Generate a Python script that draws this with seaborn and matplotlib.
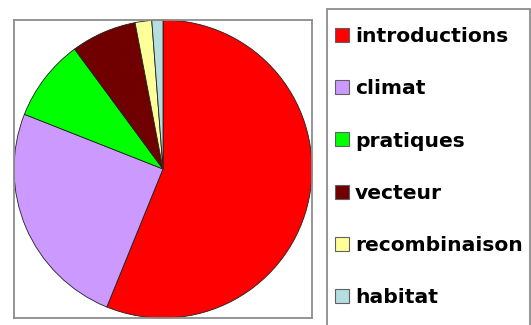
import matplotlib
matplotlib.use("Agg")
import matplotlib.pyplot as plt
from matplotlib.patches import Rectangle
import seaborn as sns

# Share of each cause (percent)
categories = ["introductions", "climat", "pratiques", "vecteur", "recombinaison", "habitat"]
shares = [56.1, 24.8, 8.9, 7.1, 1.8, 1.2]
colors = ["#FF0000", "#CC99FF", "#00FF00", "#700000", "#FFFF99", "#B4DEE0"]

sns.set_theme(style="white")
plt.rcParams["font.family"] = ["DejaVu Sans"]
palette = sns.color_palette(colors)

W, H = 531, 325
fig = plt.figure(figsize=(W / 100, H / 100), dpi=100)
fig.patch.set_facecolor("white")

# plot area box
ax = fig.add_axes([14 / W, (H - 318) / H, 298 / W, 298 / H])
wedges, _ = ax.pie(
    shares,
    colors=palette,
    startangle=90,
    counterclock=False,
    radius=1.0,
    frame=True,
    wedgeprops=dict(edgecolor="#202020", linewidth=0.6),
)
ax.set_xlim(-1.0, 1.0)
ax.set_ylim(-1.0, 1.0)
ax.set_aspect("auto")
ax.set_xticks([])
ax.set_yticks([])
for s in ax.spines.values():
    s.set_visible(True)
    s.set_color("#8C8C8C")
    s.set_linewidth(1.3)

# legend box outline
fig.patches.append(Rectangle((327 / W, -0.01), (530 - 327) / W, (H - 9) / H + 0.01,
                             transform=fig.transFigure, fill=False,
                             edgecolor="#8C8C8C", linewidth=1.3))

fs = 14.6
leg = fig.legend(
    wedges,
    categories,
    loc="upper left",
    bbox_to_anchor=(335 / W, 1 - 27 / H),
    bbox_transform=fig.transFigure,
    frameon=False,
    prop={"weight": "bold", "size": fs},
    handlelength=0.69,
    handleheight=0.69,
    handletextpad=0.3,
    labelspacing=1.64,
    borderpad=0.0,
    borderaxespad=0,
)
for t in leg.get_texts():
    t.set_color("black")
for h in leg.legend_handles:
    h.set_edgecolor("#606060")
    h.set_linewidth(0.8)

fig.savefig("out.png", dpi=100, facecolor="white")
